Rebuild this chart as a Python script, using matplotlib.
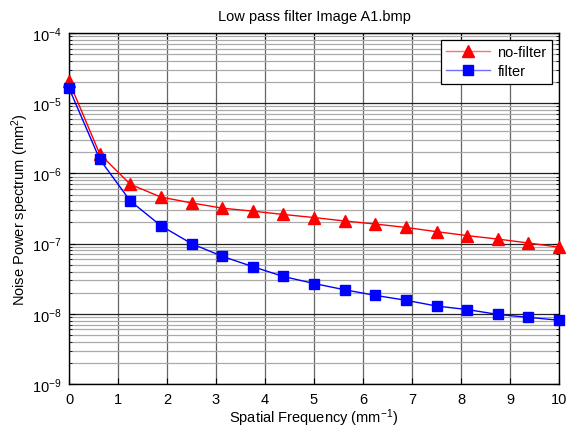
import matplotlib
matplotlib.use("Agg")
import matplotlib.pyplot as plt
import numpy as np
from matplotlib.ticker import LogLocator, NullFormatter

plt.rcParams['font.family'] = ['Liberation Sans', 'DejaVu Sans']
plt.rcParams['mathtext.fontset'] = 'custom'
plt.rcParams['mathtext.rm'] = 'Liberation Sans'
plt.rcParams['mathtext.it'] = 'Liberation Sans'

freq = [0, 0.625, 1.25, 1.875, 2.5, 3.125, 3.75, 4.375, 5, 5.625, 6.25, 6.875, 7.5, 8.125, 8.75, 9.375, 10]
nofilter = [2.05e-5, 1.9e-6, 7.0e-7, 4.6e-7, 3.8e-7, 3.2e-7, 2.9e-7, 2.6e-7, 2.35e-7, 2.1e-7, 1.9e-7, 1.7e-7, 1.48e-7, 1.30e-7, 1.16e-7, 1.02e-7, 8.9e-8]
filt = [1.64e-5, 1.6e-6, 4.05e-7, 1.8e-7, 1.0e-7, 6.6e-8, 4.7e-8, 3.4e-8, 2.7e-8, 2.2e-8, 1.83e-8, 1.56e-8, 1.29e-8, 1.15e-8, 9.8e-9, 8.9e-9, 8.1e-9]
xticks = list(range(0, 11))

FS = 10.5

fig = plt.figure(figsize=(5.7, 4.27), dpi=100)
ax = fig.add_axes([69/570, 1 - 385/427, (559 - 69)/570, (385 - 34)/427])

ax.semilogy(freq, nofilter, color='red', marker='^', markersize=8, lw=1, label='no-filter', zorder=3, clip_on=False)
ax.semilogy(freq, filt, color='blue', marker='s', markersize=7, lw=1, label='filter', zorder=3, clip_on=False)

ax.set_xlim(0, 10)
ax.set_ylim(1e-9, 1e-4)
ax.set_xticks(xticks)
ax.yaxis.set_major_locator(LogLocator(base=10, numticks=10))
ax.yaxis.set_minor_locator(LogLocator(base=10, subs=np.arange(2, 10), numticks=10))
ax.yaxis.set_minor_formatter(NullFormatter())

ax.grid(True, which='major', axis='y', color='#222222', lw=0.9)
ax.grid(True, which='minor', axis='y', color='#aaaaaa', lw=0.9)
ax.xaxis.grid(True, which='major', color='#666666', lw=0.9)

ax.tick_params(which='both', direction='in', top=True, right=True, labelsize=FS)
ax.tick_params(which='major', length=4)
ax.tick_params(which='minor', length=2)
ax.tick_params(axis='x', pad=6)
ax.tick_params(axis='y', pad=5)
for s in ax.spines.values():
    s.set_linewidth(1.0)

ax.set_title('Low pass filter Image A1.bmp', fontsize=FS, pad=9)
ax.set_xlabel('Spatial Frequency (mm$^{\\mathregular{-1}}$)', fontsize=FS, labelpad=0)
ax.set_ylabel('Noise Power spectrum (mm$^{2}$)', fontsize=FS, labelpad=1)

leg = ax.legend(loc='upper right', fontsize=FS, fancybox=False, framealpha=1,
                edgecolor='black', borderaxespad=0.45, handlelength=3.0,
                handletextpad=0.5, borderpad=0.4, labelspacing=0.35)
leg.get_frame().set_linewidth(0.9)
light = ['#ff7070', '#7070ff']
full = ['red', 'blue']
for h, lc, fc in zip(leg.get_lines(), light, full):
    h.set_color(lc)
    h.set_markerfacecolor(fc)
    h.set_markeredgecolor(fc)

fig.savefig('out.png', dpi=100)
